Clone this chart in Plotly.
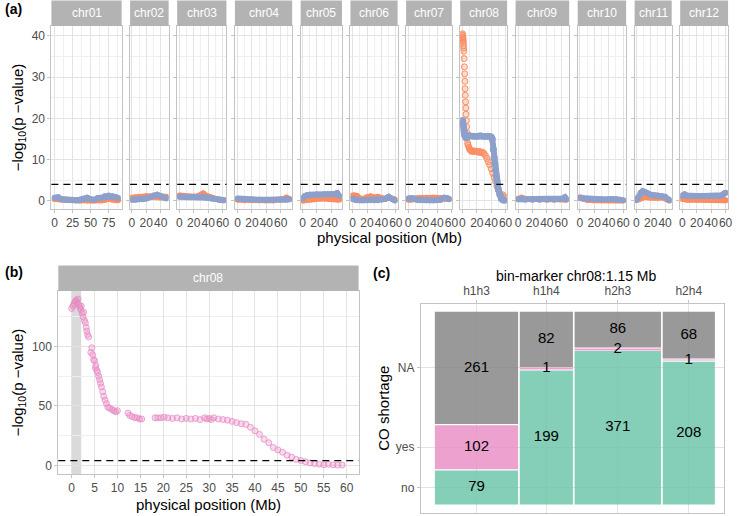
import plotly.graph_objects as go

W, H = 741, 516

# ---------------- panel (a): genome-wide scan ----------------
chroms = ['chr01', 'chr02', 'chr03', 'chr04', 'chr05', 'chr06',
          'chr07', 'chr08', 'chr09', 'chr10', 'chr11', 'chr12']
chrom_len = [88.6, 48.6, 62.2, 72.2, 52.1, 59.5, 57.6, 59.1, 67.6, 61.1, 46.8, 60.4]

chr01_pos = [0, 5, 10, 15, 20, 25, 30, 35, 40, 45, 50, 55, 60, 65, 70, 75, 80, 85, 88]
chr01_orange = [0.5, 0.4, 0.3, 0.3, 0.2, 0.3, 0.2, 0.1, 0.2, 0.1, 0.1, 0.1, 0.2, 0.1, 0.3, 0.5, 0.3, 0.2, 0.2]
chr01_blue = [0.8, 0.9, 0.4, 0.3, 0.3, 0.2, 0.2, 0.3, 0.4, 0.8, 0.4, 0.3, 0.7, 0.8, 1.2, 1.3, 1.1, 0.9, 0.7]

chr02_pos = [0, 5, 10, 15, 20, 25, 30, 35, 40, 45, 48]
chr02_orange = [0.8, 0.9, 1.0, 1.1, 1.2, 1.1, 1.0, 0.9, 0.8, 0.9, 1.0]
chr02_blue = [0.3, 0.3, 0.4, 0.4, 0.6, 0.9, 1.3, 1.5, 1.2, 0.8, 0.6]

chr03_pos = [0, 5, 10, 15, 20, 25, 30, 33, 36, 40, 45, 50, 55, 60, 62]
chr03_orange = [1.3, 1.2, 1.0, 1.0, 1.0, 1.1, 1.4, 1.8, 1.4, 1.0, 0.8, 0.5, 0.3, 0.2, 0.2]
chr03_blue = [1.0, 1.0, 0.9, 0.9, 1.0, 0.9, 1.0, 1.1, 0.9, 0.8, 0.6, 0.5, 0.3, 0.2, 0.2]

chr04_pos = [0, 10, 20, 30, 40, 50, 60, 65, 68, 72]
chr04_orange = [0.3, 0.2, 0.2, 0.2, 0.2, 0.2, 0.3, 0.5, 0.8, 0.4]
chr04_blue = [0.6, 0.4, 0.35, 0.3, 0.3, 0.3, 0.3, 0.3, 0.3, 0.4]

chr05_pos = [0, 3, 6, 10, 15, 20, 25, 30, 35, 40, 45, 48, 51]
chr05_orange = [0.1, 0.2, 0.3, 0.4, 0.5, 0.6, 0.6, 0.6, 0.6, 0.6, 0.5, 0.4, 0.3]
chr05_blue = [0.6, 1.2, 1.4, 1.5, 1.5, 1.6, 1.5, 1.6, 1.6, 1.7, 1.7, 1.9, 1.2]

chr06_pos = [0, 3, 6, 10, 15, 20, 25, 30, 35, 40, 45, 50, 55, 59]
chr06_orange = [1.3, 1.3, 1.2, 0.6, 0.5, 0.9, 1.1, 0.8, 1.0, 0.7, 0.5, 0.8, 0.5, 0.3]
chr06_blue = [0.5, 0.3, 0.2, 0.2, 0.2, 0.2, 0.2, 0.2, 0.2, 0.3, 0.5, 1.0, 0.5, 0.1]

chr07_pos = [0, 4, 8, 12, 16, 20, 25, 30, 35, 40, 45, 50, 54, 57]
chr07_orange = [0.3, 0.3, 0.4, 0.6, 0.7, 0.8, 0.8, 0.7, 0.8, 0.8, 0.7, 0.6, 0.5, 0.4]
chr07_blue = [0.6, 0.7, 0.6, 0.3, 0.2, 0.2, 0.2, 0.2, 0.2, 0.2, 0.3, 0.8, 0.7, 0.5]

chr08_orange_pos = [0.1, 0.3, 0.5, 0.7, 0.9, 1.1, 1.3, 1.5, 1.7, 2.0, 2.4, 2.8, 3.2, 3.5, 3.8,
                    4.1, 4.4, 4.7, 5.0, 5.4, 5.8, 6.3, 6.8, 7.3, 8,
                    9, 10, 11, 12, 13, 14, 16, 18, 20, 22, 24, 26, 28, 30, 32, 34, 36, 38, 40,
                    42, 44, 46, 48, 50, 52, 54, 56, 58]
chr08_orange = [40.5, 40.2, 39.8, 39.5, 39.2, 38.8, 38.3, 37.6, 37.0, 36.3, 34.5, 32.5, 30.8, 29.0, 27.2,
                25.6, 24.0, 22.5, 21.0, 19.5, 18.0, 16.5, 15.2, 14.0, 13.5,
                13.0, 12.5, 12.3, 12.2, 12.0, 12.2, 12.0, 12.1, 12.0, 11.8, 12.0, 11.7, 11.8, 11.5, 11.0,
                10.3, 9.5, 8.7, 7.8, 6.8, 5.8, 4.7, 3.5, 2.6, 1.8, 1.2, 1.5, 1.0]
chr08_blue_pos = [0.2, 0.5, 1, 1.5, 2, 2.5, 3, 4, 5, 6, 8, 10, 15, 20, 25, 30, 35, 38, 40,
                  41.5, 43, 44, 45, 46, 47, 48, 49, 50, 52, 54, 56, 58]
chr08_blue = [19.5, 19.0, 18.5, 17.8, 17.0, 16.5, 16.0, 15.8, 15.3, 15.8, 15.6, 15.8, 15.7, 15.6, 15.8,
              15.6, 15.7, 15.6, 15.5, 15.0, 12.5, 10.5, 9.0, 7.5, 6.0, 4.8, 3.8, 2.8, 1.5, 0.6, 0.3, 0.2]

chr09_pos = [0, 5, 10, 20, 30, 40, 50, 58, 62, 65, 67]
chr09_orange = [0.5, 0.8, 0.5, 0.4, 0.4, 0.4, 0.4, 0.4, 0.4, 0.4, 0.3]
chr09_blue = [0.4, 0.4, 0.3, 0.3, 0.3, 0.3, 0.3, 0.4, 0.6, 0.9, 0.4]

chr10_pos = [0, 5, 10, 20, 30, 40, 45, 50, 55, 60]
chr10_orange = [0.9, 0.5, 0.3, 0.2, 0.2, 0.2, 0.2, 0.2, 0.2, 0.1]
chr10_blue = [0.7, 0.6, 0.5, 0.4, 0.4, 0.4, 0.5, 0.4, 0.3, 0.2]

chr11_pos = [0, 3, 6, 9, 12, 16, 20, 25, 30, 35, 40, 44, 46]
chr11_orange = [0.2, 0.5, 0.8, 1.0, 1.0, 0.9, 0.8, 0.8, 0.8, 0.9, 0.6, 0.3, 0.2]
chr11_blue = [0.3, 0.9, 2.0, 2.4, 2.2, 1.8, 1.5, 1.4, 1.3, 1.2, 1.0, 0.4, 0.1]

chr12_pos = [0, 3, 6, 10, 20, 30, 40, 50, 55, 58, 60]
chr12_orange = [0.5, 0.4, 0.3, 0.3, 0.3, 0.3, 0.3, 0.3, 0.3, 0.2, 0.2]
chr12_blue = [1.3, 1.6, 1.3, 1.2, 1.2, 1.2, 1.2, 1.2, 1.4, 1.8, 2.0]

threshold = 4.0

# ---------------- panel (b): chr08 scan ----------------
b_pos = [0.0, 0.3, 0.5, 0.8, 1.0, 1.2, 1.4, 1.6, 1.8, 2.0, 2.1, 2.3, 2.5, 2.6, 2.8, 3.0, 3.2, 3.3,
         3.5, 3.7, 4.2, 4.4, 4.6, 4.8, 5.0, 5.2, 5.3, 5.5, 5.7, 5.9, 6.1, 6.3, 6.5, 6.8, 7.0, 7.3,
         7.6, 7.9, 8.3, 8.8, 9.2, 9.6, 10.0, 12.3, 12.7, 13.2, 13.8, 14.3, 14.8, 15.3, 18.2, 18.8,
         19.5, 20.2, 21, 22, 23, 24, 25, 26, 27, 28, 29, 29.5, 30, 30.5, 31, 32, 33, 34, 35, 36,
         37, 38, 39, 40, 41, 42, 43, 44, 45, 46, 47, 48, 49, 50, 51, 52, 53, 54, 55, 56, 57, 58, 59]
b_val = [132, 134, 136, 138, 139, 137, 140, 135, 133, 131, 134, 128, 125, 129, 122, 120, 116, 113,
         110, 108, 95, 99, 93, 89, 88, 82, 84, 80, 78, 75, 72, 69, 66, 62, 58, 55,
         52, 49, 48, 47, 46, 45, 46, 44, 42, 41, 40, 40, 39, 39, 40, 40,
         40, 40.5, 40, 39.5, 40, 39, 39.5, 39, 39.5, 38.5, 40, 39, 39.5, 38.5, 40, 39, 38.5, 38, 37, 36,
         35, 34.5, 32, 29, 26, 22, 19, 15, 13, 11, 8.5, 7, 5, 4, 3, 2, 1.5, 1, 0.5, 0.8, 0.5, 0.2, 0.3]
bin_region = [0.0, 2.1]

# ---------------- panel (c): mosaic of CO shortage ----------------
genotypes = ['h1h3', 'h1h4', 'h2h3', 'h2h4']
co_levels = ['no', 'yes', 'NA']
count_no = [79, 199, 371, 208]
count_yes = [102, 1, 2, 1]
count_na = [261, 82, 86, 68]

ORANGE = '#FC8D62'
BLUE = '#8DA0CB'
PINK = '#E78AC3'
GREEN = '#66C2A5'
NA_GREY = '#7F7F7F'
BORDER = '#C4C4C4'
GRID = '#E3E3E3'
GRID_MINOR = '#EFEFEF'
STRIP = '#B3B3B3'
TICK = '#4D4D4D'
FONT = 'Liberation Sans, Arial, sans-serif'


def px(x):
    return x / W


def py(y):
    return 1 - y / H


def axis_style(**kw):
    d = dict(showline=True, mirror=True, linecolor=BORDER, linewidth=1,
             ticks='outside', ticklen=3, tickcolor=BORDER, tickwidth=1,
             showgrid=True, gridcolor=GRID, gridwidth=1, zeroline=False, tickangle=0,
             tickfont=dict(size=12, color=TICK, family=FONT), fixedrange=True)
    d.update(kw)
    return d


def ax(k):
    return ('x' if k == 1 else 'x%d' % k), ('y' if k == 1 else 'y%d' % k)


fig = go.Figure()
shapes = []
annotations = []
layout = {}

positions = [chr01_pos, chr02_pos, chr03_pos, chr04_pos, chr05_pos, chr06_pos,
             chr07_pos, None, chr09_pos, chr10_pos, chr11_pos, chr12_pos]
oranges = [chr01_orange, chr02_orange, chr03_orange, chr04_orange, chr05_orange, chr06_orange,
           chr07_orange, None, chr09_orange, chr10_orange, chr11_orange, chr12_orange]
blues = [chr01_blue, chr02_blue, chr03_blue, chr04_blue, chr05_blue, chr06_blue,
         chr07_blue, None, chr09_blue, chr10_blue, chr11_blue, chr12_blue]

# facet widths proportional to chromosome length (free space)
a_left, a_right, a_gap = 50, 735, 8.6
a_top, a_bottom, strip_h = 26, 209, 25.5
span = [l * 1.1 for l in chrom_len]
scale = (a_right - a_left - a_gap * (len(chroms) - 1)) / sum(span)
x0 = a_left
for i, name in enumerate(chroms):
    k = i + 1
    xn, yn = ax(k)
    w = span[i] * scale
    L = chrom_len[i]
    major = 25 if i == 0 else 20
    layout['xaxis' if k == 1 else 'xaxis%d' % k] = axis_style(
        domain=[px(x0), px(x0 + w)], anchor=yn, range=[-0.05 * L, 1.05 * L],
        tick0=0, dtick=major,
        minor=dict(tick0=0, dtick=major / 2, showgrid=True, gridcolor=GRID_MINOR, gridwidth=0.7))
    layout['yaxis' if k == 1 else 'yaxis%d' % k] = axis_style(
        domain=[py(a_bottom), py(a_top)], anchor=xn, range=[-1.95, 42.4],
        tick0=0, dtick=10, showticklabels=(k == 1),
        minor=dict(tick0=0, dtick=5, showgrid=True, gridcolor=GRID_MINOR, gridwidth=0.7))
    shapes.append(dict(type='rect', xref='paper', yref='paper', x0=px(x0), x1=px(x0 + w),
                       y0=py(a_top), y1=py(a_top - strip_h), fillcolor=STRIP, line=dict(width=0)))
    annotations.append(dict(text=name, x=px(x0 + w / 2), y=py(a_top - strip_h / 2),
                            font=dict(size=12, color='white', family=FONT)))
    shapes.append(dict(type='line', xref=xn + ' domain', yref=yn, x0=0, x1=1,
                       y0=threshold, y1=threshold,
                       line=dict(color='black', width=1.3, dash='7px,5px')))
    if name == 'chr08':
        fig.add_trace(go.Scatter(x=chr08_orange_pos, y=chr08_orange, mode='markers', xaxis=xn, yaxis=yn,
                                 marker=dict(size=6, color='rgba(252,141,98,0.3)',
                                             line=dict(color=ORANGE, width=1))))
        fig.add_trace(go.Scatter(x=chr08_blue_pos, y=chr08_blue, mode='lines+markers', xaxis=xn, yaxis=yn,
                                 line=dict(color=BLUE, width=6),
                                 marker=dict(size=7, color=BLUE)))
    else:
        fig.add_trace(go.Scatter(x=positions[i], y=oranges[i], mode='lines+markers', xaxis=xn, yaxis=yn,
                                 line=dict(color=ORANGE, width=6), marker=dict(size=6, color=ORANGE)))
        fig.add_trace(go.Scatter(x=positions[i], y=blues[i], mode='lines+markers', xaxis=xn, yaxis=yn,
                                 line=dict(color=BLUE, width=6), marker=dict(size=6, color=BLUE)))
    x0 += w + a_gap

# ---------------- panel (b) ----------------
kb = 13
xb, yb = ax(kb)
b_l, b_r, b_t, b_b = 57, 361, 291, 474
layout['xaxis13'] = axis_style(domain=[px(b_l), px(b_r)], anchor=yb, range=[-2.9, 62.6],
                               tick0=0, dtick=5)
layout['yaxis13'] = axis_style(domain=[py(b_b), py(b_t)], anchor=xb, range=[-7.3, 146.7],
                               tick0=0, dtick=50,
                               minor=dict(tick0=0, dtick=25, showgrid=True, gridcolor=GRID_MINOR, gridwidth=0.7))
shapes.append(dict(type='rect', xref='paper', yref='paper', x0=px(b_l), x1=px(b_r),
                   y0=py(b_t), y1=py(b_t - strip_h), fillcolor=STRIP, line=dict(width=0)))
annotations.append(dict(text='chr08', x=px((b_l + b_r) / 2), y=py(b_t - strip_h / 2),
                        font=dict(size=12, color='white', family=FONT)))
shapes.append(dict(type='rect', xref=xb, yref=yb + ' domain', x0=bin_region[0], x1=bin_region[1],
                   y0=0, y1=1, fillcolor='#DADADA', line=dict(width=0), layer='below'))
shapes.append(dict(type='line', xref=xb + ' domain', yref=yb, x0=0, x1=1, y0=threshold, y1=threshold,
                   line=dict(color='black', width=1.3, dash='7px,5px')))
fig.add_trace(go.Scatter(x=b_pos, y=b_val, mode='markers', xaxis=xb, yaxis=yb,
                         marker=dict(size=6, color='rgba(231,138,195,0.3)',
                                     line=dict(color='rgba(231,138,195,0.75)', width=1))))

# ---------------- panel (c): mosaic ----------------
kc = 14
xc, yc = ax(kc)
c_l, c_r, c_t, c_b = 424, 731, 303.5, 513.3
gx, gy = 0.006, 0.007
totals = [a + b + c for a, b, c in zip(count_no, count_yes, count_na)]
grand = sum(totals)
col_w = [(1 - gx * (len(totals) - 1)) * t / grand for t in totals]
col_left = []
pos = 0
for w in col_w:
    col_left.append(pos)
    pos += w + gx
col_mid = [l + w / 2 for l, w in zip(col_left, col_w)]

level_counts = [count_no, count_yes, count_na]
level_colors = [GREEN, PINK, NA_GREY]
bottoms = [[0] * len(totals) for _ in level_counts]
heights = [[0] * len(totals) for _ in level_counts]
for j, t in enumerate(totals):
    b = 0
    for li, cnt in enumerate(level_counts):
        h = (1 - gy * (len(level_counts) - 1)) * cnt[j] / t
        bottoms[li][j] = b
        heights[li][j] = h
        b += h + gy

for li, cnt in enumerate(level_counts):
    fig.add_trace(go.Bar(x=col_mid, y=heights[li], base=bottoms[li], width=col_w,
                         xaxis=xc, yaxis=yc, marker=dict(color=level_colors[li], opacity=0.8,
                                                         line=dict(width=0))))
for li, cnt in enumerate(level_counts):
    fig.add_trace(go.Scatter(x=col_mid, y=[b + h / 2 for b, h in zip(bottoms[li], heights[li])],
                             text=[str(v) for v in cnt], mode='text', xaxis=xc, yaxis=yc,
                             textfont=dict(size=15, color='black', family=FONT), cliponaxis=False))

layout['xaxis14'] = axis_style(domain=[px(c_l), px(c_r)], anchor=yc, range=[-0.05, 1.033],
                               side='top', tickmode='array', tickvals=col_mid, ticktext=genotypes)
layout['yaxis14'] = axis_style(domain=[py(c_b), py(c_t)], anchor=xc, range=[-0.046, 1.043],
                               tickmode='array',
                               tickvals=[bottoms[li][0] + heights[li][0] / 2 for li in range(3)],
                               ticktext=co_levels)

# ---------------- titles and panel letters ----------------
title_font = dict(size=15, color='black', family=FONT)
ylab = '\u2212log<sub>10</sub>(p \u2212value)'
annotations += [
    dict(text=ylab, x=px(17), y=py((a_top + a_bottom) / 2), textangle=-90, font=title_font),
    dict(text='physical position (Mb)', x=px((a_left + a_right) / 2), y=py(238), font=title_font),
    dict(text=ylab, x=px(17), y=py((b_t + b_b) / 2), textangle=-90, font=title_font),
    dict(text='physical position (Mb)', x=px((b_l + b_r) / 2), y=py(504), font=title_font),
    dict(text='CO shortage', x=px(386), y=py((c_t + c_b) / 2), textangle=-90, font=title_font),
    dict(text='bin-marker chr08:1.15 Mb', x=px((c_l + c_r) / 2 + 4), y=py(276),
         font=dict(size=14, color='black', family=FONT)),
    dict(text='<b>(a)</b>', x=px(12), y=py(9), font=dict(size=14, color='black', family=FONT)),
    dict(text='<b>(b)</b>', x=px(12), y=py(272), font=dict(size=14, color='black', family=FONT)),
    dict(text='<b>(c)</b>', x=px(384), y=py(273), font=dict(size=14, color='black', family=FONT)),
]
for a in annotations:
    a.update(xref='paper', yref='paper', showarrow=False, xanchor='center', yanchor='middle')

fig.update_layout(width=W, height=H, margin=dict(l=0, r=0, t=0, b=0),
                  paper_bgcolor='white', plot_bgcolor='white', showlegend=False,
                  barmode='overlay', font=dict(family=FONT),
                  shapes=shapes, annotations=annotations, **layout)

# the page's default body margin would shift the figure by 8px
fig.write_html('out.html', config={'displayModeBar': False},
               post_script="document.body.style.margin='0';")
